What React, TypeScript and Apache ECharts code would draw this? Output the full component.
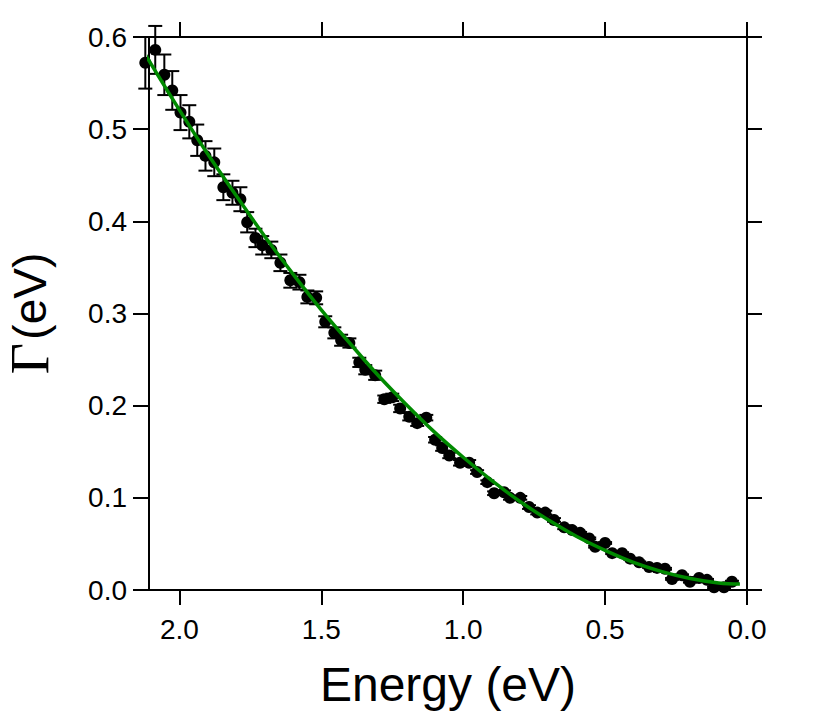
import React, { useEffect, useRef } from "react";
import * as echarts from "echarts";

// Measured points: energy (eV), linewidth Gamma (eV) and its error
const energy = [
  2.12, 2.085, 2.053, 2.025, 1.996, 1.965, 1.937, 1.908, 1.877, 1.845,
  1.813, 1.785, 1.761, 1.732, 1.708, 1.676, 1.644, 1.609, 1.577, 1.549,
  1.518, 1.486, 1.454, 1.43, 1.401, 1.366, 1.345, 1.31, 1.278, 1.25,
  1.222, 1.19, 1.162, 1.13, 1.099, 1.074, 1.049, 1.011, 0.979, 0.951,
  0.915, 0.891, 0.856, 0.835, 0.799, 0.768, 0.739, 0.711, 0.68, 0.644,
  0.616, 0.588, 0.556, 0.535, 0.5, 0.475, 0.44, 0.412, 0.38, 0.345,
  0.317, 0.289, 0.264, 0.229, 0.201, 0.169, 0.141, 0.116, 0.081, 0.053,
];
const gamma = [
  0.572, 0.586, 0.559, 0.542, 0.518, 0.508, 0.488, 0.471, 0.464, 0.437,
  0.431, 0.424, 0.399, 0.382, 0.374, 0.369, 0.355, 0.336, 0.334, 0.318,
  0.317, 0.291, 0.279, 0.271, 0.268, 0.247, 0.239, 0.233, 0.207, 0.209,
  0.197, 0.188, 0.181, 0.187, 0.163, 0.154, 0.146, 0.138, 0.138, 0.128,
  0.117, 0.105, 0.106, 0.1, 0.1, 0.09, 0.084, 0.084, 0.076, 0.068,
  0.065, 0.062, 0.056, 0.047, 0.051, 0.04, 0.04, 0.034, 0.03, 0.025,
  0.024, 0.023, 0.012, 0.016, 0.009, 0.013, 0.011, 0.003, 0.003, 0.009,
];
const gammaErr = [
  0.028, 0.026, 0.022, 0.021, 0.019, 0.018, 0.017, 0.016, 0.015, 0.014,
  0.013, 0.013, 0.011, 0.01, 0.01, 0.009, 0.009, 0.008, 0.008, 0.007,
  0.007, 0.006, 0.006, 0.006, 0.005, 0.005, 0.005, 0.005, 0.004, 0.004,
  0.004, 0.004, 0.003, 0.003, 0.003, 0.003, 0.003, 0.003, 0.003, 0.002,
  0.002, 0.002, 0.002, 0.002, 0.002, 0.002, 0.002, 0.002, 0.002, 0.002,
  0.001, 0.001, 0.001, 0.001, 0.001, 0.001, 0.001, 0.001, 0.001, 0.001,
  0.001, 0.001, 0.001, 0.001, 0.001, 0.001, 0.001, 0.001, 0.001, 0.001,
];

// Fit curve
const fitEnergy = [
  2.12, 2.0, 1.9, 1.8, 1.7, 1.6, 1.5, 1.4, 1.3, 1.2, 1.1, 1.0,
  0.9, 0.8, 0.7, 0.6, 0.5, 0.4, 0.3, 0.2, 0.1, 0.025,
];
const fitGamma = [
  0.581, 0.521, 0.473, 0.428, 0.384, 0.343, 0.304, 0.268, 0.233, 0.201, 0.171, 0.144,
  0.119, 0.096, 0.076, 0.058, 0.043, 0.03, 0.02, 0.0125, 0.0077, 0.0065,
];

const xTicks = [0, 0.5, 1.0, 1.5, 2.0];

const X_MIN = 0;
const X_MAX = 2.107;
const Y_MIN = 0;
const Y_MAX = 0.6;

export default function App() {
  const ref = useRef<HTMLDivElement>(null);
  useEffect(() => {
    const chart = echarts.init(ref.current as HTMLDivElement, null, { renderer: "svg" });
    const pts = energy.map((e, i) => [e, gamma[i], gammaErr[i]]);
    const fit = fitEnergy.map((e, i) => [e, fitGamma[i]]);
    const sans = "Liberation Sans";
    const lineStyle = { color: "#000", width: 2 };
    const tickStyle = { color: "#000", width: 2 };
    const option: any = {
      animation: false,
      backgroundColor: "#fff",
      grid: { left: 149, right: 83, top: 37, bottom: 131, containLabel: false, outerBoundsMode: "none" },
      xAxis: [
        {
          type: "value",
          position: "bottom",
          inverse: true,
          min: X_MIN,
          max: X_MAX,
          splitLine: { show: false },
          axisLine: { show: true, onZero: false, lineStyle },
          axisTick: { show: true, length: 15, lineStyle: tickStyle, customValues: xTicks },
          axisLabel: {
            show: true,
            customValues: xTicks,
            formatter: (v: number) => v.toFixed(1),
            fontFamily: sans,
            fontSize: 28,
            color: "#000",
            margin: 25,
          },
          name: "Energy (eV)",
          nameLocation: "middle",
          nameGap: 70,
          nameTextStyle: { fontFamily: sans, fontSize: 48, color: "#000" },
        },
        {
          type: "value",
          position: "top",
          inverse: true,
          min: X_MIN,
          max: X_MAX,
          splitLine: { show: false },
          axisLine: { show: true, onZero: false, lineStyle },
          axisTick: { show: true, length: 15, lineStyle: tickStyle, customValues: xTicks },
          axisLabel: { show: false },
        },
      ],
      yAxis: [
        {
          type: "value",
          position: "left",
          min: Y_MIN,
          max: Y_MAX,
          interval: 0.1,
          splitLine: { show: false },
          axisLine: { show: true, onZero: false, lineStyle },
          axisTick: { show: true, length: 16, lineStyle: tickStyle },
          axisLabel: {
            formatter: (v: number) => v.toFixed(1),
            fontFamily: sans,
            fontSize: 28,
            color: "#000",
            margin: 22,
          },
          name: "{g|Γ} {t|(eV)}",
          nameLocation: "middle",
          nameGap: 92,
          nameTextStyle: {
            color: "#000",
            rich: {
              g: { fontFamily: "Liberation Serif", fontSize: 54, color: "#000" },
              t: { fontFamily: sans, fontSize: 46, color: "#000" },
            },
          },
        },
        {
          type: "value",
          position: "right",
          min: Y_MIN,
          max: Y_MAX,
          interval: 0.1,
          splitLine: { show: false },
          axisLine: { show: true, onZero: false, lineStyle },
          axisTick: { show: true, length: 15, lineStyle: tickStyle },
          axisLabel: { show: false },
        },
      ],
      series: [
        {
          type: "custom",
          xAxisIndex: 0,
          yAxisIndex: 0,
          clip: false,
          data: pts,
          encode: { x: 0, y: 1 },
          renderItem: (_params: any, api: any) => {
            const x = api.value(0);
            const y = api.value(1);
            const e = api.value(2);
            const top = api.coord([x, y + e]);
            const bot = api.coord([x, y - e]);
            const w = 7;
            const style = { stroke: "#000", lineWidth: 2, fill: "none" };
            return {
              type: "group",
              children: [
                { type: "line", shape: { x1: top[0], y1: top[1], x2: bot[0], y2: bot[1] }, style },
                { type: "line", shape: { x1: top[0] - w, y1: top[1], x2: top[0] + w, y2: top[1] }, style },
                { type: "line", shape: { x1: bot[0] - w, y1: bot[1], x2: bot[0] + w, y2: bot[1] }, style },
              ],
            };
          },
          z: 2,
        },
        {
          type: "scatter",
          xAxisIndex: 0,
          yAxisIndex: 0,
          data: pts.map((p) => [p[0], p[1]]),
          symbol: "circle",
          symbolSize: 12,
          itemStyle: { color: "#000", opacity: 1 },
          clip: false,
          z: 3,
        },
        {
          type: "line",
          xAxisIndex: 0,
          yAxisIndex: 0,
          data: fit,
          smooth: 0.4,
          showSymbol: false,
          symbol: "none",
          lineStyle: { color: "#008a00", width: 3.5 },
          z: 4,
        },
      ],
    };
    chart.setOption(option);
    return () => chart.dispose();
  }, []);
  return (
    <div
      ref={ref}
      style={{ position: "fixed", left: 0, top: 0, width: 830, height: 721, background: "#fff" }}
    />
  );
}
